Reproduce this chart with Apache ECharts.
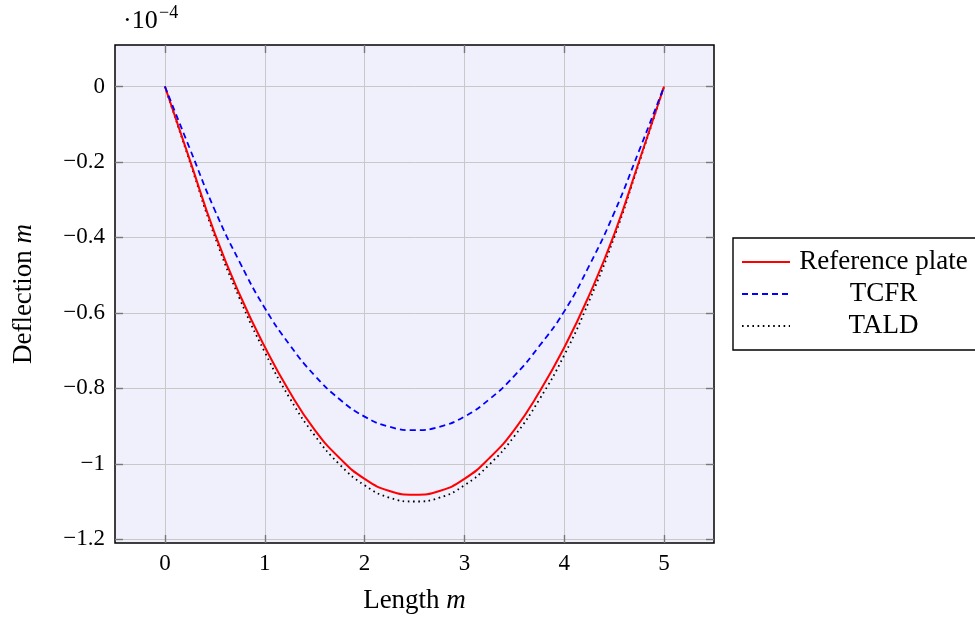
<!DOCTYPE html>
<html><head><meta charset="utf-8">
<script src="https://cdn.jsdelivr.net/npm/echarts@6/dist/echarts.min.js"></script>
<style>html,body{margin:0;padding:0;background:#fff}#c{width:975px;height:619px}</style>
</head><body><div id="c"></div>
<script>
const xValues = [0, 0.25, 0.5, 0.75, 1, 1.25, 1.5, 1.75, 2, 2.25, 2.5, 2.75, 3, 3.25, 3.5, 3.75, 4, 4.25, 4.5, 4.75, 5];
const referencePlate = [0, -0.195, -0.39, -0.552, -0.69, -0.81, -0.91, -0.985, -1.04, -1.072, -1.082, -1.072, -1.04, -0.985, -0.91, -0.81, -0.692, -0.553, -0.392, -0.198, 0];
const tcfr = [0, -0.165, -0.328, -0.466, -0.587, -0.685, -0.766, -0.829, -0.875, -0.902, -0.911, -0.902, -0.875, -0.829, -0.767, -0.688, -0.596, -0.475, -0.335, -0.17, 0];
const tald = [0, -0.2, -0.398, -0.563, -0.704, -0.826, -0.925, -1.002, -1.057, -1.09, -1.1, -1.09, -1.057, -1.002, -0.927, -0.83, -0.712, -0.568, -0.4, -0.202, 0];
const xTicks = [0, 1, 2, 3, 4, 5];
const yTicks = [-1.2, -1, -0.8, -0.6, -0.4, -0.2, 0];
const seriesNames = ['Reference plate', 'TCFR', 'TALD'];

const FONT = 'Liberation Serif';
const pair = arr => xValues.map((x, i) => [x, arr[i]]);
const fmtY = v => { const r = Math.round(v * 10) / 10; return r === 0 ? '0' : (r < 0 ? '\u2212' : '') + Math.abs(r); };

const tickStyle = { show: true, inside: true, length: 8, lineStyle: { color: '#777777', width: 1.4 } };
const gridLine = { show: true, lineStyle: { color: '#c8c8c8', width: 1 } };
const noLine = { show: false, onZero: false };

const chart = echarts.init(document.getElementById('c'), null, { renderer: 'canvas' });
chart.setOption({
  animation: false,
  backgroundColor: '#ffffff',
  grid: { left: 115, top: 45, width: 599, height: 500, show: true, backgroundColor: '#f0f0fc', borderColor: '#000', borderWidth: 1.5 },
  xAxis: [
    { type: 'value', min: -0.5, max: 5.5, position: 'bottom',
      axisLine: noLine,
      axisTick: Object.assign({ customValues: xTicks }, tickStyle),
      axisLabel: { customValues: xTicks, margin: 9, color: '#000', fontFamily: FONT, fontSize: 23 },
      splitLine: gridLine,
      name: 'Length {i|m}', nameLocation: 'middle', nameGap: 44,
      nameTextStyle: { color: '#000', fontFamily: FONT, fontSize: 27, rich: { i: { fontStyle: 'italic', fontFamily: FONT, fontSize: 27, color: '#000' } } } },
    { type: 'value', min: -0.5, max: 5.5, position: 'top',
      axisLine: noLine,
      axisTick: Object.assign({ customValues: xTicks }, tickStyle),
      axisLabel: { show: false }, splitLine: { show: false } }
  ],
  yAxis: [
    { type: 'value', min: -1.21, max: 0.11, position: 'left',
      axisLine: noLine,
      axisTick: Object.assign({ customValues: yTicks }, tickStyle),
      axisLabel: { customValues: yTicks, formatter: fmtY, margin: 10, color: '#000', fontFamily: FONT, fontSize: 23 },
      splitLine: gridLine,
      name: 'Deflection {i|m}', nameLocation: 'middle', nameGap: 78, nameRotate: 90,
      nameTextStyle: { color: '#000', fontFamily: FONT, fontSize: 27, rich: { i: { fontStyle: 'italic', fontFamily: FONT, fontSize: 27, color: '#000' } } } },
    { type: 'value', min: -1.21, max: 0.11, position: 'right',
      axisLine: noLine,
      axisTick: Object.assign({ customValues: yTicks }, tickStyle),
      axisLabel: { show: false }, splitLine: { show: false } }
  ],
  legend: {
    orient: 'vertical', left: 733, top: 238,
    padding: [9, 8, 9, 8], itemGap: 2, itemWidth: 48, itemHeight: 14,
    borderColor: '#000', borderWidth: 1.4, backgroundColor: '#fff',
    data: seriesNames,
    itemStyle: { opacity: 0 },
    formatter: n => '{t|' + n + '}',
    textStyle: { color: '#000', fontFamily: FONT, fontSize: 27, lineHeight: 30,
      rich: { t: { width: 177, align: 'center', fontFamily: FONT, fontSize: 27, lineHeight: 30, color: '#000' } } }
  },
  graphic: [
    { type: 'text', left: 123, top: 8, style: { text: '\u00b710', font: '26px "Liberation Serif"', fill: '#000' } },
    { type: 'text', left: 159, top: 4, style: { text: '\u22124', font: '18px "Liberation Serif"', fill: '#000' } }
  ],
  series: [
    { name: seriesNames[0], type: 'line', data: pair(referencePlate), smooth: true, symbol: 'none', z: 3,
      lineStyle: { color: '#ff0000', width: 2 }, itemStyle: { color: '#ff0000' } },
    { name: seriesNames[1], type: 'line', data: pair(tcfr), smooth: true, symbol: 'none', z: 4,
      lineStyle: { color: '#0000ff', width: 1.8, type: [6, 4] }, itemStyle: { color: '#0000ff' } },
    { name: seriesNames[2], type: 'line', data: pair(tald), smooth: true, symbol: 'none', z: 2,
      lineStyle: { color: '#000', width: 1.8, type: [1.6, 3.6] }, itemStyle: { color: '#000' } }
  ]
});
</script></body></html>
